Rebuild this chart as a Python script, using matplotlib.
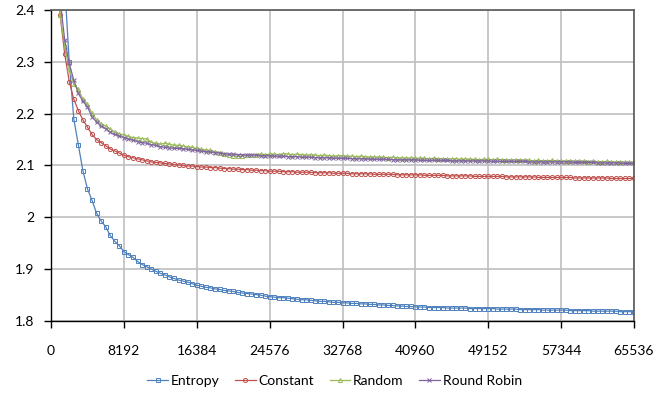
import numpy as np
import matplotlib.pyplot as plt

plt.rcParams['font.family'] = ['Lato', 'DejaVu Sans']

# sample counts: 128 measurements, every 512 samples
step = 512
samples = step * np.arange(1, 129)

entropy = [
    3.30, 2.80, 2.45, 2.300, 2.190, 2.140, 2.090, 2.055, 2.033, 2.008,
    1.993, 1.982, 1.965, 1.954, 1.945, 1.934, 1.928, 1.923, 1.915, 1.909,
    1.905, 1.900, 1.896, 1.892, 1.889, 1.885, 1.882, 1.879, 1.877, 1.875,
    1.872, 1.869, 1.867, 1.865, 1.864, 1.862, 1.861, 1.859, 1.858, 1.857,
    1.855, 1.854, 1.853, 1.852, 1.851, 1.850, 1.848, 1.847, 1.846, 1.845,
    1.845, 1.844, 1.843, 1.842, 1.841, 1.841, 1.840, 1.839, 1.838, 1.838,
    1.837, 1.836, 1.836, 1.835, 1.835, 1.834, 1.834, 1.833, 1.833, 1.832,
    1.832, 1.831, 1.831, 1.830, 1.830, 1.829, 1.829, 1.828, 1.828, 1.827,
    1.827, 1.827, 1.826, 1.826, 1.826, 1.826, 1.825, 1.825, 1.825, 1.825,
    1.825, 1.824, 1.824, 1.824, 1.824, 1.824, 1.824, 1.823, 1.823, 1.823,
    1.823, 1.823, 1.822, 1.822, 1.822, 1.822, 1.822, 1.821, 1.821, 1.821,
    1.821, 1.821, 1.821, 1.820, 1.820, 1.820, 1.820, 1.820, 1.819, 1.819,
    1.819, 1.819, 1.819, 1.819, 1.818, 1.818, 1.818, 1.818,
]

constant = [
    2.500, 2.390, 2.316, 2.262, 2.228, 2.206, 2.188, 2.174, 2.160, 2.150,
    2.144, 2.138, 2.132, 2.128, 2.124, 2.120, 2.117, 2.115, 2.113, 2.111,
    2.109, 2.107, 2.106, 2.105, 2.104, 2.103, 2.102, 2.101, 2.100, 2.099,
    2.099, 2.098, 2.097, 2.097, 2.096, 2.096, 2.095, 2.094, 2.094, 2.093,
    2.093, 2.092, 2.092, 2.091, 2.091, 2.090, 2.090, 2.089, 2.089, 2.089,
    2.088, 2.088, 2.088, 2.087, 2.087, 2.087, 2.087, 2.086, 2.086, 2.086,
    2.086, 2.085, 2.085, 2.085, 2.085, 2.084, 2.084, 2.084, 2.084, 2.084,
    2.083, 2.083, 2.083, 2.083, 2.083, 2.082, 2.082, 2.082, 2.082, 2.082,
    2.082, 2.081, 2.081, 2.081, 2.081, 2.081, 2.080, 2.080, 2.080, 2.080,
    2.080, 2.080, 2.079, 2.079, 2.079, 2.079, 2.079, 2.079, 2.079, 2.078,
    2.078, 2.078, 2.078, 2.078, 2.078, 2.078, 2.077, 2.077, 2.077, 2.077,
    2.077, 2.077, 2.077, 2.077, 2.076, 2.076, 2.076, 2.076, 2.076, 2.076,
    2.076, 2.076, 2.075, 2.075, 2.075, 2.075, 2.075, 2.075,
]

random_sel = [
    2.470, 2.390, 2.330, 2.287, 2.257, 2.247, 2.228, 2.218, 2.201, 2.188,
    2.181, 2.176, 2.170, 2.165, 2.161, 2.159, 2.156, 2.154, 2.153, 2.152,
    2.151, 2.145, 2.143, 2.141, 2.143, 2.141, 2.139, 2.139, 2.138, 2.136,
    2.135, 2.133, 2.131, 2.130, 2.129, 2.127, 2.124, 2.122, 2.120, 2.119,
    2.118, 2.118, 2.120, 2.121, 2.121, 2.122, 2.121, 2.122, 2.122, 2.121,
    2.123, 2.122, 2.121, 2.122, 2.121, 2.120, 2.121, 2.120, 2.119, 2.120,
    2.119, 2.118, 2.119, 2.119, 2.118, 2.118, 2.117, 2.118, 2.117, 2.116,
    2.117, 2.116, 2.116, 2.115, 2.116, 2.115, 2.115, 2.114, 2.115, 2.114,
    2.114, 2.114, 2.113, 2.114, 2.113, 2.113, 2.112, 2.113, 2.113, 2.112,
    2.113, 2.112, 2.112, 2.111, 2.112, 2.112, 2.111, 2.112, 2.111, 2.111,
    2.110, 2.111, 2.110, 2.110, 2.110, 2.109, 2.110, 2.109, 2.109, 2.110,
    2.109, 2.109, 2.108, 2.109, 2.108, 2.108, 2.108, 2.107, 2.108, 2.107,
    2.107, 2.108, 2.107, 2.106, 2.107, 2.106, 2.106, 2.106,
]

round_robin = [
    2.450, 2.420, 2.343, 2.297, 2.265, 2.239, 2.224, 2.213, 2.194, 2.184,
    2.176, 2.171, 2.164, 2.160, 2.157, 2.154, 2.151, 2.149, 2.146, 2.144,
    2.143, 2.140, 2.139, 2.136, 2.135, 2.134, 2.133, 2.133, 2.132, 2.131,
    2.130, 2.129, 2.128, 2.127, 2.126, 2.125, 2.124, 2.123, 2.122, 2.122,
    2.121, 2.121, 2.120, 2.120, 2.120, 2.119, 2.119, 2.119, 2.118, 2.118,
    2.118, 2.117, 2.117, 2.117, 2.116, 2.116, 2.116, 2.115, 2.115, 2.115,
    2.115, 2.114, 2.114, 2.114, 2.114, 2.113, 2.113, 2.113, 2.113, 2.112,
    2.112, 2.112, 2.112, 2.112, 2.111, 2.111, 2.111, 2.111, 2.111, 2.111,
    2.110, 2.110, 2.110, 2.110, 2.110, 2.110, 2.110, 2.109, 2.109, 2.109,
    2.109, 2.109, 2.109, 2.109, 2.109, 2.109, 2.108, 2.108, 2.108, 2.108,
    2.108, 2.108, 2.108, 2.108, 2.107, 2.107, 2.107, 2.107, 2.107, 2.107,
    2.107, 2.107, 2.107, 2.107, 2.106, 2.106, 2.106, 2.106, 2.106, 2.105,
    2.105, 2.105, 2.105, 2.105, 2.105, 2.104, 2.104, 2.104,
]

x_ticks = [0, 8192, 16384, 24576, 32768, 40960, 49152, 57344, 65536]
y_ticks = [1.8, 1.9, 2.0, 2.1, 2.2, 2.3, 2.4]
y_labels = ['1.8', '1.9', '2', '2.1', '2.2', '2.3', '2.4']

fig = plt.figure(figsize=(6.69, 3.94), dpi=100)
ax = fig.add_axes([51 / 669, 73 / 394, 583 / 669, 311 / 394])

series = [
    ('Entropy', entropy, '#4F81BD', 's'),
    ('Constant', constant, '#C0504D', 'o'),
    ('Random', random_sel, '#9BBB59', '^'),
    ('Round Robin', round_robin, '#8064A2', 'x'),
]
for name, vals, col, mk in series:
    ax.plot(samples, vals, color=col, lw=0.9, marker=mk, ms=3.0,
            mew=0.7, mfc='none', mec=col, label=name)

ax.set_xlim(0, 65536)
ax.set_ylim(1.8, 2.4)
ax.set_xticks(x_ticks)
ax.set_xticklabels([str(t) for t in x_ticks])
ax.set_yticks(y_ticks)
ax.set_yticklabels(y_labels)
ax.grid(True, color='#BFBFBF', lw=1.2)
ax.set_axisbelow(True)

for side in ['left', 'bottom']:
    ax.spines[side].set_color('black')
    ax.spines[side].set_linewidth(1.0)
for side in ['top', 'right']:
    ax.spines[side].set_color('#595959')
    ax.spines[side].set_linewidth(1.2)

ax.tick_params(axis='both', direction='out', length=5, width=1.0,
               color='black', labelsize=10, labelcolor='black')
ax.tick_params(axis='x', pad=12)
ax.tick_params(axis='y', pad=7)

fig.legend(loc='center', bbox_to_anchor=(0.5, 1 - 381 / 394), ncol=4,
           frameon=False, fontsize=10, handlelength=1.5, handletextpad=0.2,
           columnspacing=1.1)

fig.savefig('out.png', dpi=100)
